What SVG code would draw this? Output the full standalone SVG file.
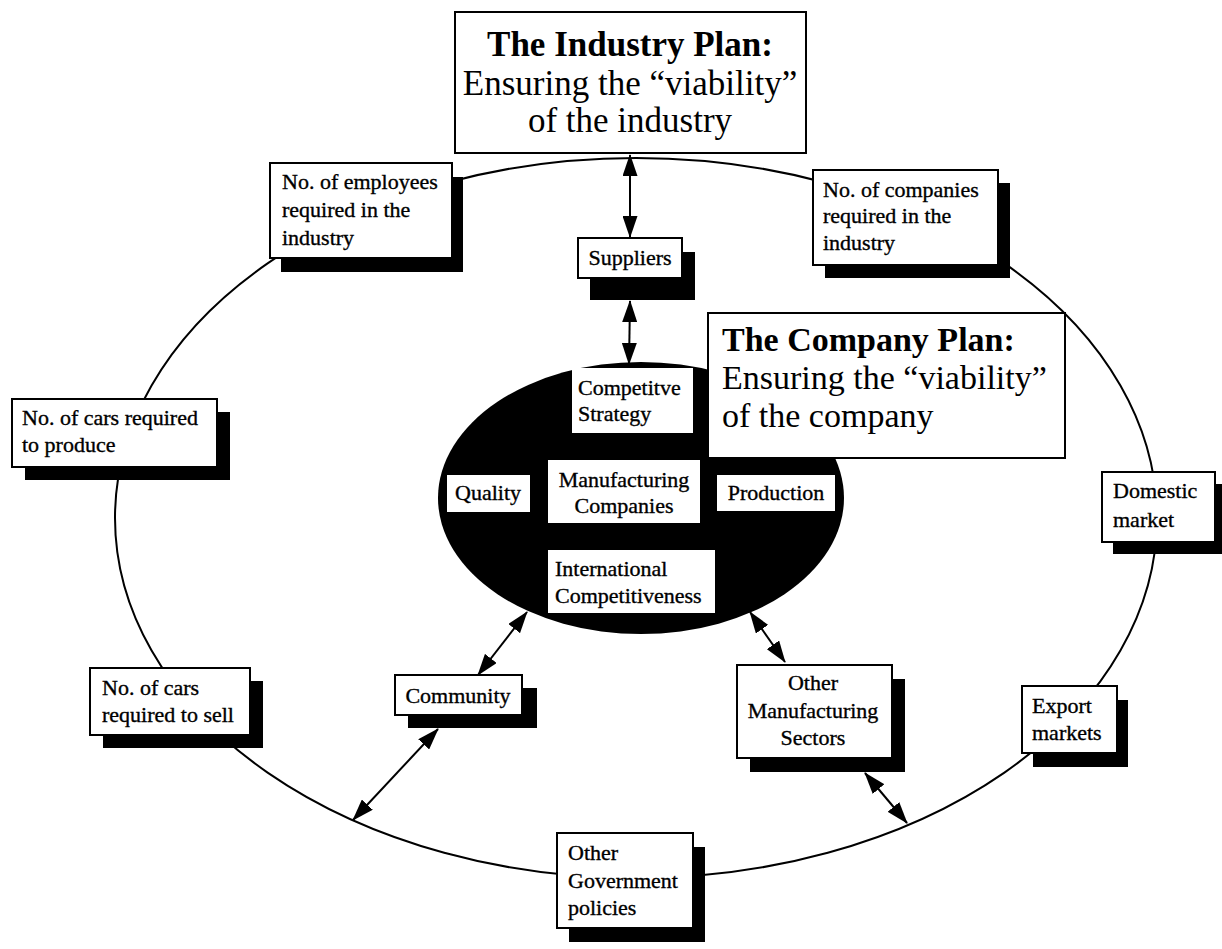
<svg xmlns="http://www.w3.org/2000/svg" width="1222" height="949" viewBox="0 0 1222 949">
<style>
text{font-family:"Liberation Serif","Times New Roman",serif;fill:#000}
.lbl{font-size:22px;stroke:#000;stroke-width:0.35}
.big{font-size:35px}
.bigb{font-size:35px;font-weight:bold}
.box{fill:#fff;stroke:#000;stroke-width:2}
.sh{fill:#000}
.inbox{fill:#fff;stroke:none}
.conn{stroke:#000;stroke-width:2;fill:none}
.mid{text-anchor:middle}
</style>
<defs>
<marker id="ah" viewBox="0 0 22 15" refX="21" refY="7.5" markerWidth="22" markerHeight="15" markerUnits="userSpaceOnUse" orient="auto-start-reverse">
<path d="M0,0 L22,7.5 L0,15 z" fill="#000"/>
</marker>
</defs>
<rect width="1222" height="949" fill="#fff"/>
<g id="outer-ring">
<ellipse cx="636" cy="518" rx="521" ry="360" fill="none" stroke="#000" stroke-width="2"/>
</g>
<g id="company-core">
<ellipse cx="641" cy="498" rx="203" ry="136" fill="#000"/>
</g>
<g id="connectors">
<line class="conn" x1="630" y1="155" x2="630" y2="237" marker-start="url(#ah)" marker-end="url(#ah)"/>
<line class="conn" x1="630" y1="301" x2="629" y2="364" marker-start="url(#ah)" marker-end="url(#ah)"/>
<line class="conn" x1="527" y1="612" x2="478" y2="675" marker-start="url(#ah)" marker-end="url(#ah)"/>
<line class="conn" x1="750" y1="612" x2="785" y2="662" marker-start="url(#ah)" marker-end="url(#ah)"/>
<line class="conn" x1="438" y1="729" x2="353" y2="820" marker-start="url(#ah)" marker-end="url(#ah)"/>
<line class="conn" x1="865" y1="773" x2="907" y2="823" marker-start="url(#ah)" marker-end="url(#ah)"/>
</g>
<g id="industry-plan">
<rect class="box" x="455" y="12" width="351" height="141"/>
<text class="bigb mid" x="630" y="56">The Industry Plan:</text>
<text class="big mid" x="630" y="95">Ensuring the “viability”</text>
<text class="big mid" x="630" y="132">of the industry</text>
</g>
<g id="employees">
<rect class="sh" x="281" y="177" width="182" height="95"/>
<rect class="box" x="270" y="163" width="182" height="95"/>
<text class="lbl" x="282" y="189">No. of employees</text>
<text class="lbl" x="282" y="217">required in the</text>
<text class="lbl" x="282" y="245">industry</text>
</g>
<g id="companies">
<rect class="sh" x="825" y="183" width="185" height="95"/>
<rect class="box" x="813" y="170" width="185" height="95"/>
<text class="lbl" x="823" y="197">No. of companies</text>
<text class="lbl" x="823" y="223">required in the</text>
<text class="lbl" x="823" y="250">industry</text>
</g>
<g id="suppliers">
<rect class="sh" x="590" y="252" width="105" height="48"/>
<rect class="box" x="578" y="238" width="104" height="40"/>
<text class="lbl mid" x="630" y="265">Suppliers</text>
</g>
<g id="company-plan">
<rect class="box" x="708" y="313" width="357" height="145"/>
<text class="bigb" x="722" y="351" style="font-size:34px">The Company Plan:</text>
<text class="big" x="722" y="389" style="font-size:34px">Ensuring the “viability”</text>
<text class="big" x="722" y="427" style="font-size:34px">of the company</text>
</g>
<g id="competitive-strategy">
<rect class="inbox" x="572" y="368" width="121" height="65"/>
<text class="lbl" x="578" y="395">Competitve</text>
<text class="lbl" x="578" y="421">Strategy</text>
</g>
<g id="quality">
<rect class="inbox" x="447" y="475" width="83" height="37"/>
<text class="lbl mid" x="488" y="500">Quality</text>
</g>
<g id="manufacturing-companies">
<rect class="inbox" x="548" y="460" width="152" height="63"/>
<text class="lbl mid" x="624" y="487">Manufacturing</text>
<text class="lbl mid" x="624" y="513">Companies</text>
</g>
<g id="production">
<rect class="inbox" x="717" y="475" width="118" height="36"/>
<text class="lbl mid" x="776" y="500">Production</text>
</g>
<g id="international-competitiveness">
<rect class="inbox" x="548" y="550" width="167" height="63"/>
<text class="lbl" x="555" y="576">International</text>
<text class="lbl" x="555" y="603">Competitiveness</text>
</g>
<g id="cars-produce">
<rect class="sh" x="25" y="412" width="205" height="68"/>
<rect class="box" x="12" y="399" width="205" height="68"/>
<text class="lbl" x="22" y="425">No. of cars required</text>
<text class="lbl" x="22" y="452">to produce</text>
</g>
<g id="domestic-market">
<rect class="sh" x="1113" y="484" width="113" height="70"/>
<rect class="box" x="1102" y="472" width="113" height="70"/>
<text class="lbl" x="1113" y="498">Domestic</text>
<text class="lbl" x="1113" y="527">market</text>
</g>
<g id="export-markets">
<rect class="sh" x="1033" y="700" width="95" height="67"/>
<rect class="box" x="1022" y="686" width="95" height="67"/>
<text class="lbl" x="1032" y="713">Export</text>
<text class="lbl" x="1032" y="740">markets</text>
</g>
<g id="cars-sell">
<rect class="sh" x="103" y="681" width="160" height="67"/>
<rect class="box" x="90" y="668" width="160" height="67"/>
<text class="lbl" x="102" y="695">No. of cars</text>
<text class="lbl" x="102" y="722">required to sell</text>
</g>
<g id="community">
<rect class="sh" x="408" y="688" width="129" height="40"/>
<rect class="box" x="395" y="675" width="127" height="40"/>
<text class="lbl mid" x="458" y="703">Community</text>
</g>
<g id="other-manufacturing">
<rect class="sh" x="750" y="679" width="155" height="93"/>
<rect class="box" x="737" y="665" width="155" height="93"/>
<text class="lbl mid" x="813" y="690">Other</text>
<text class="lbl mid" x="813" y="718">Manufacturing</text>
<text class="lbl mid" x="813" y="745">Sectors</text>
</g>
<g id="government">
<rect class="sh" x="569" y="847" width="136" height="95"/>
<rect class="box" x="557" y="833" width="136" height="95"/>
<text class="lbl" x="568" y="860">Other</text>
<text class="lbl" x="568" y="888">Government</text>
<text class="lbl" x="568" y="915">policies</text>
</g>
</svg>
